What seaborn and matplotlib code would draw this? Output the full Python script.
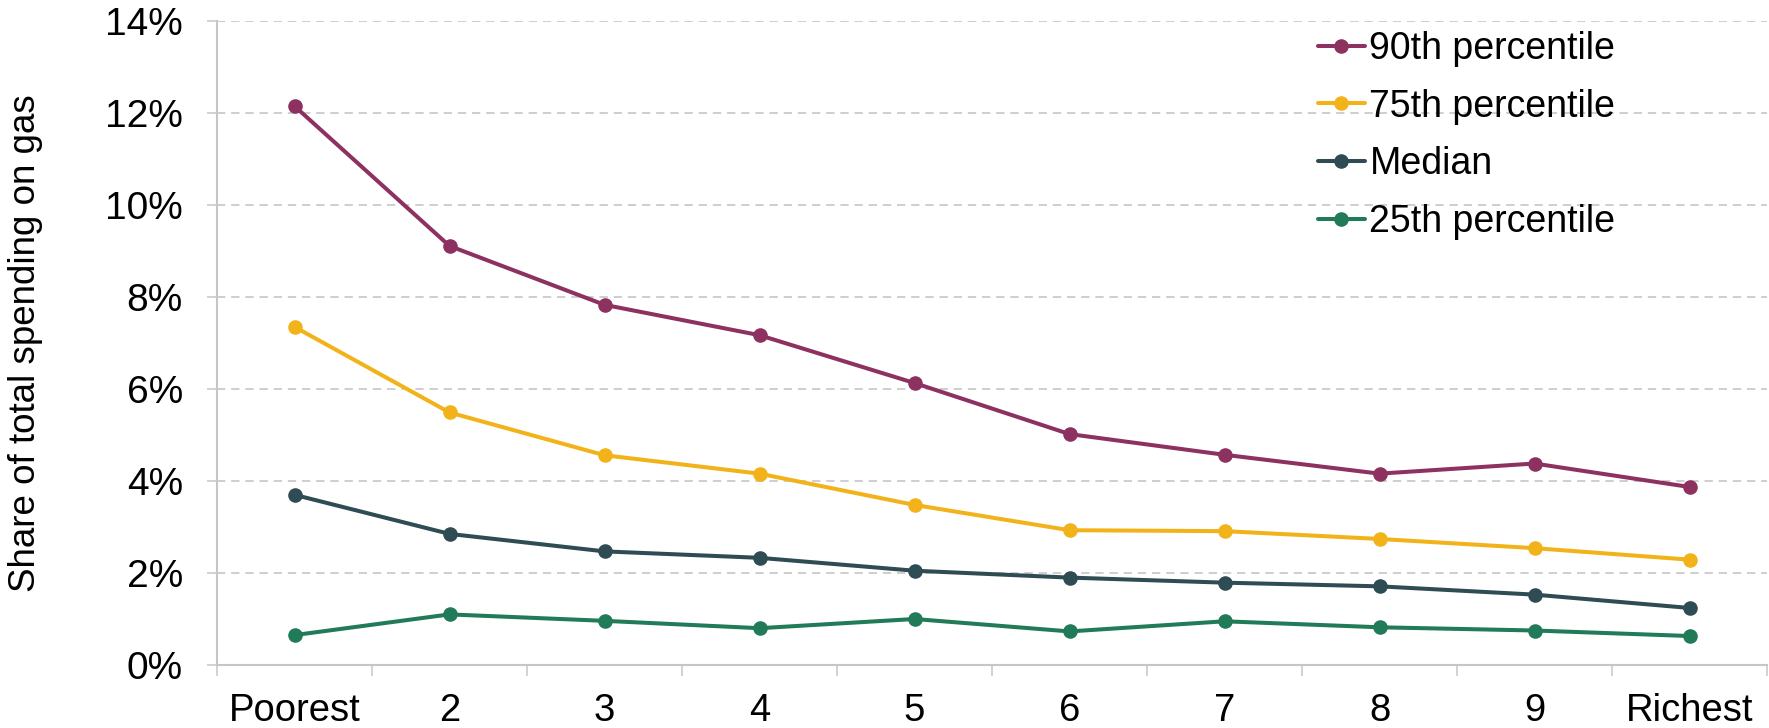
import numpy as np
import pandas as pd
import matplotlib
matplotlib.use("Agg")
import matplotlib.pyplot as plt
from matplotlib.ticker import FixedLocator, PercentFormatter
import seaborn as sns

# Household expenditure deciles (poorest to richest)
deciles = ["Poorest", "2", "3", "4", "5", "6", "7", "8", "9", "Richest"]

# Share of total spending on gas (%) at selected points of each decile's distribution
p90 = [12.15, 9.11, 7.83, 7.17, 6.13, 5.02, 4.57, 4.16, 4.38, 3.87]
p75 = [7.35, 5.49, 4.56, 4.16, 3.48, 2.93, 2.91, 2.74, 2.54, 2.29]
median = [3.70, 2.85, 2.47, 2.33, 2.05, 1.90, 1.79, 1.71, 1.53, 1.24]
p25 = [0.65, 1.10, 0.96, 0.80, 1.00, 0.73, 0.95, 0.82, 0.75, 0.63]

series_names = ["90th percentile", "75th percentile", "Median", "25th percentile"]
series_values = [p90, p75, median, p25]
series_colors = ["#8d3161", "#f2b31a", "#2f4b53", "#217a58"]

y_ticks = [0, 2, 4, 6, 8, 10, 12, 14]

frames = []
for name, vals in zip(series_names, series_values):
    frames.append(pd.DataFrame({
        "pos": np.arange(len(deciles)),
        "decile": deciles,
        "share": vals,
        "series": name,
    }))
df = pd.concat(frames, ignore_index=True)

sns.set_theme(style="white")
plt.rcParams["font.family"] = ["Liberation Sans", "DejaVu Sans"]
plt.rcParams["text.color"] = "#000000"
plt.rcParams["axes.labelcolor"] = "#000000"

FS = 27.5

fig = plt.figure(figsize=(17.69, 7.28), dpi=100)
ax = fig.add_axes([217 / 1769, 1 - 665 / 728, 1550 / 1769, (665 - 21) / 728])

sns.lineplot(
    data=df, x="pos", y="share", hue="series",
    hue_order=series_names, palette=series_colors,
    marker="o", markersize=10.5, markeredgewidth=0,
    linewidth=2.9, ax=ax, legend=False, sort=False,
)

grid_color = "#c6c6c6"
ax.set_xlim(-0.5, len(deciles) - 0.5)
ax.set_ylim(0, 14)
ax.yaxis.set_major_locator(FixedLocator(y_ticks))
ax.yaxis.set_major_formatter(PercentFormatter(decimals=0))
ax.set_xticks(np.arange(len(deciles)))
ax.set_xticklabels(deciles)
ax.set_xticks(np.arange(len(deciles) + 1) - 0.5, minor=True)

for y in y_ticks[1:]:
    ax.axhline(y, color=grid_color, linewidth=1.2, linestyle=(0, (5, 3.5)), zorder=0)

for side in ["top", "right"]:
    ax.spines[side].set_visible(False)
for side in ["left", "bottom"]:
    ax.spines[side].set_color(grid_color)
    ax.spines[side].set_linewidth(1.5)

ax.tick_params(axis="y", which="major", length=7.5, width=1.1, color=grid_color,
               labelsize=28, pad=17, left=True)
ax.tick_params(axis="x", which="major", length=0, labelsize=FS, pad=20, bottom=True)
ax.tick_params(axis="x", which="minor", length=8, width=1.1, color=grid_color, bottom=True)
ax.tick_params(labelcolor="#000000")

ax.set_xlabel("")
ax.set_ylabel("Share of total spending on gas", fontsize=26.5, color="#000000")
ax.yaxis.set_label_coords(-0.112, 0.5)

handles = ax.get_lines()[:len(series_names)]
leg = ax.legend(
    handles, series_names, loc="upper left",
    bbox_to_anchor=((1303 - 217) / 1550, 1.008),
    frameon=False, fontsize=27, handlelength=1.25, handletextpad=0.12,
    labelspacing=0.58, borderaxespad=0,
)
for t in leg.get_texts():
    t.set_color("#000000")

fig.savefig("out.png", dpi=100, facecolor="white")
